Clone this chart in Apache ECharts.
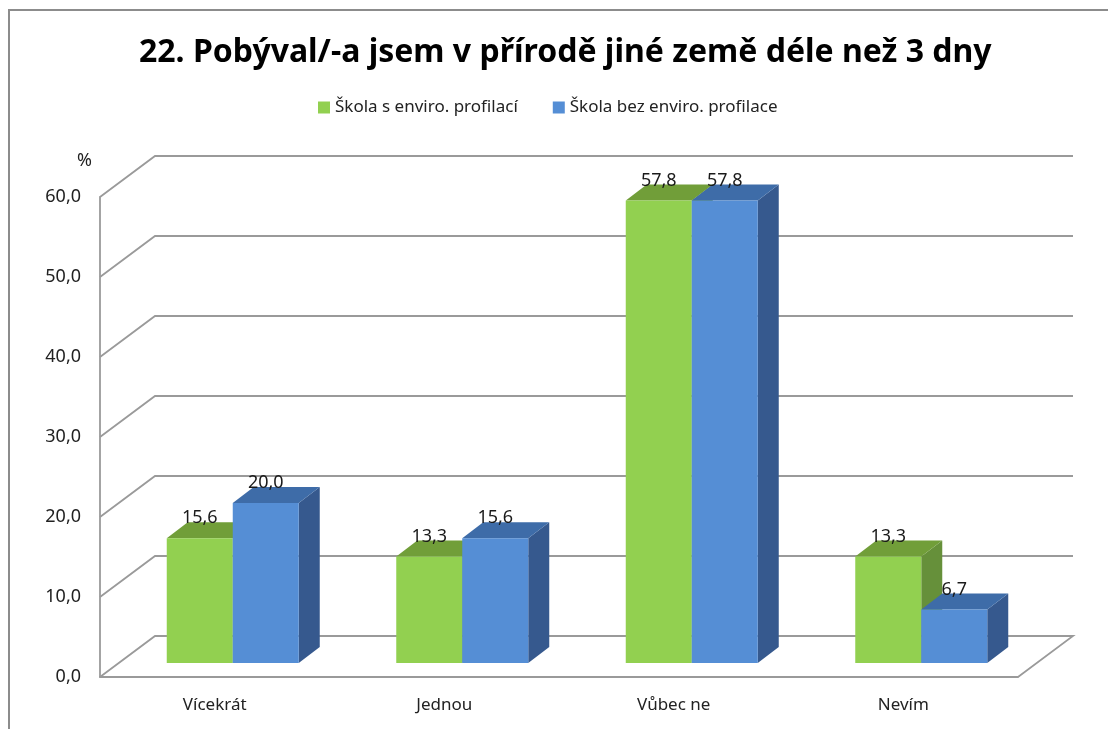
<!DOCTYPE html>
<html>
<head>
<meta charset="utf-8">
<script src="https://cdn.jsdelivr.net/npm/echarts@6/dist/echarts.min.js"></script>
<style>
  html, body { margin: 0; padding: 0; background: #fff; }
  #frame { position: absolute; left: 8px; top: 9px; right: 0; bottom: 0; border-top: 2px solid #8c8c8c; border-left: 2px solid #8c8c8c; }
  #chart { position: absolute; left: 0; top: 0; width: 1108px; height: 729px; }
</style>
</head>
<body>
<div id="frame"></div>
<div id="chart"></div>
<script>
// data
const categories = ['Vícekrát', 'Jednou', 'Vůbec ne', 'Nevím']
const seriesNames = ['Škola s enviro. profilací', 'Škola bez enviro. profilace']
const withProfile = [15.6, 13.3, 57.8, 13.3]
const withoutProfile = [20.0, 15.6, 57.8, 6.7]
const yTicks = [0, 10, 20, 30, 40, 50, 60]

// 3D look
const WALL_DX = 55, WALL_DY = 41    // back wall offset
const SHIFT_DX = 18, SHIFT_DY = 14  // bars sit a bit behind the front plane
const BAR_DX = 21, BAR_DY = 16      // bar depth
const BAR_W = 66

const colors = [
  { front: '#92D050', top: '#719E39', side: '#66903A' },
  { front: '#558ED5', top: '#3E6CA8', side: '#36598E' }
]

const fmt = (v) => v.toFixed(1).replace('.', ',')

const chart = echarts.init(document.getElementById('chart'))

function wallItem(params, api) {
  const cs = params.coordSys
  const y = api.coord([0, api.value(0)])[1]
  const x0 = cs.x
  const x1 = cs.x + cs.width
  const pts = [[x0, y], [x0 + WALL_DX, y - WALL_DY], [x1 + WALL_DX, y - WALL_DY]]
  if (api.value(0) === 0) pts.push([x1, y])
  return {
    type: 'polyline',
    shape: { points: pts },
    style: { stroke: '#9a9a9a', lineWidth: 1.8, fill: null },
    silent: true
  }
}

function barItem(idx) {
  return function (params, api) {
    const c = api.coord([api.value(0), api.value(1)])
    const base = api.coord([api.value(0), 0])
    const col = colors[idx]
    const xl = c[0] + SHIFT_DX - BAR_W + idx * BAR_W
    const xr = xl + BAR_W
    const top = c[1] - SHIFT_DY
    const bottom = base[1] - SHIFT_DY
    return {
      type: 'group',
      children: [
        {
          type: 'polygon',
          shape: { points: [[xr, top], [xr + BAR_DX, top - BAR_DY], [xr + BAR_DX, bottom - BAR_DY], [xr, bottom]] },
          style: { fill: col.side }
        },
        {
          type: 'polygon',
          shape: { points: [[xl, top], [xr, top], [xr + BAR_DX, top - BAR_DY], [xl + BAR_DX, top - BAR_DY]] },
          style: { fill: col.top }
        },
        {
          type: 'rect',
          shape: { x: xl, y: top, width: BAR_W, height: bottom - top },
          style: { fill: col.front }
        },
        {
          type: 'text',
          x: (xl + xr) / 2,
          y: top - 20,
          style: {
            text: fmt(api.value(1)),
            align: 'center',
            verticalAlign: 'middle',
            fontSize: 18,
            fontFamily: 'Noto Sans',
            fill: '#1a1a1a'
          }
        }
      ]
    }
  }
}

const option = {
  animation: false,
  title: {
    text: '22. Pobýval/-a jsem v přírodě jiné země déle než 3 dny',
    left: 134,
    top: 32,
    textStyle: { fontSize: 32, fontWeight: 'bold', color: '#000', fontFamily: 'Noto Sans' }
  },
  legend: {
    top: 94,
    left: 313,
    itemWidth: 12,
    itemHeight: 12,
    itemGap: 35,
    icon: 'rect',
    data: seriesNames,
    textStyle: { fontSize: 17, color: '#222', fontFamily: 'Noto Sans' }
  },
  grid: { left: 100, right: 90, top: 197, bottom: 52 },
  xAxis: {
    type: 'category',
    data: categories,
    axisTick: { show: false },
    axisLine: { lineStyle: { color: '#9a9a9a', width: 1.8 } },
    axisLabel: { fontSize: 17, color: '#222', margin: 20, fontFamily: 'Noto Sans' }
  },
  yAxis: {
    type: 'value',
    min: 0,
    max: 60,
    interval: 10,
    name: '%',
    nameGap: 27,
    nameTextStyle: { fontSize: 18, color: '#222', align: 'right', padding: [0, 8, 0, 0], fontFamily: 'Noto Sans' },
    axisLine: { show: true, lineStyle: { color: '#9a9a9a', width: 1.8 } },
    axisTick: { show: false },
    splitLine: { show: false },
    axisLabel: { fontSize: 18, color: '#222', margin: 19, formatter: fmt, fontFamily: 'Noto Sans' }
  },
  series: [
    {
      type: 'custom',
      name: 'walls',
      renderItem: wallItem,
      data: yTicks.map((v) => [v]),
      encode: { y: 0 },
      z: 1,
      silent: true
    },
    {
      type: 'custom',
      name: seriesNames[0],
      itemStyle: { color: colors[0].front },
      renderItem: barItem(0),
      data: withProfile.map((v, i) => [i, v]),
      encode: { x: 0, y: 1 },
      z: 2
    },
    {
      type: 'custom',
      name: seriesNames[1],
      itemStyle: { color: colors[1].front },
      renderItem: barItem(1),
      data: withoutProfile.map((v, i) => [i, v]),
      encode: { x: 0, y: 1 },
      z: 3
    }
  ]
}

chart.setOption(option)
</script>
</body>
</html>
